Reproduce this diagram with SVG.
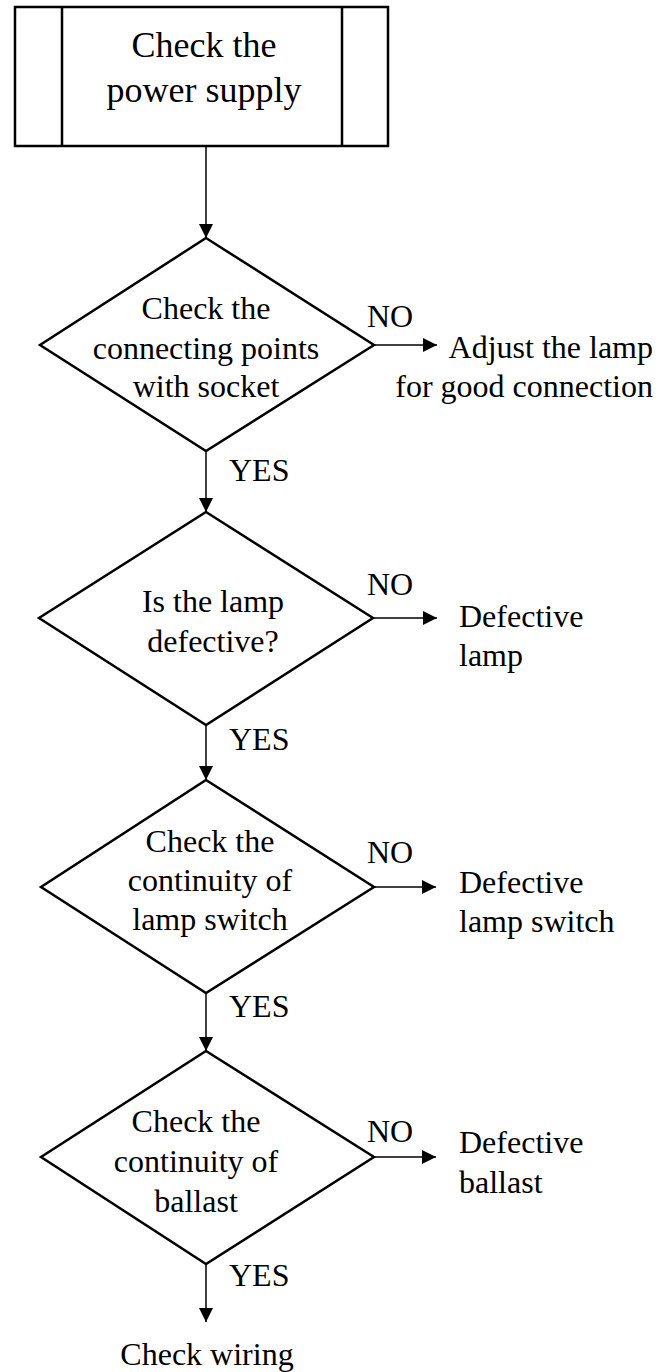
<svg xmlns="http://www.w3.org/2000/svg" width="670" height="1372" viewBox="0 0 670 1372">
<defs>
<marker id="arr" markerUnits="userSpaceOnUse" markerWidth="14" markerHeight="14" refX="14" refY="7" orient="auto">
<path d="M0,0 L14,7 L0,14 z" fill="#000"/>
</marker>
<style>
.shape{fill:#fff;stroke:#000;stroke-width:2.5;stroke-linejoin:miter}
.conn{stroke:#000;stroke-width:1.5;fill:none;marker-end:url(#arr)}
text{font-family:"Liberation Serif","Times New Roman",serif;fill:#000}
.t32{font-size:32px}
.t36{font-size:36px}
.c{text-anchor:middle}
</style>
</defs>
<rect width="670" height="1372" fill="#fff"/>
<g id="connectors">
<line class="conn" x1="206" y1="146" x2="206" y2="238"/>
<line class="conn" x1="206" y1="451" x2="206" y2="512"/>
<line class="conn" x1="206" y1="725" x2="206" y2="780"/>
<line class="conn" x1="206" y1="993" x2="206" y2="1051"/>
<line class="conn" x1="206" y1="1264" x2="206" y2="1322"/>
<line class="conn" x1="374" y1="345" x2="437" y2="345"/>
<line class="conn" x1="373" y1="618" x2="437" y2="618"/>
<line class="conn" x1="374" y1="887" x2="436" y2="887"/>
<line class="conn" x1="374" y1="1157" x2="436" y2="1157"/>
<text class="t32" x="367" y="327">NO</text>
<text class="t32" x="367" y="595">NO</text>
<text class="t32" x="367" y="863">NO</text>
<text class="t32" x="367" y="1142">NO</text>
<text class="t32" x="229" y="481">YES</text>
<text class="t32" x="229" y="750">YES</text>
<text class="t32" x="229" y="1017">YES</text>
<text class="t32" x="229" y="1286">YES</text>
</g>
<g id="start">
<rect class="shape" x="15" y="7" width="373" height="139"/>
<line x1="62" y1="7" x2="62" y2="146" stroke="#000" stroke-width="2.5"/>
<line x1="342" y1="7" x2="342" y2="146" stroke="#000" stroke-width="2.5"/>
<text class="t36 c" x="204" y="57">Check the</text>
<text class="t36 c" x="204" y="102">power supply</text>
</g>
<g id="d1">
<polygon class="shape" points="206,238 374,345 206,451 40,345"/>
<text class="t32 c" x="206" y="319">Check the</text>
<text class="t32 c" x="206" y="359">connecting points</text>
<text class="t32 c" x="206" y="397">with socket</text>
</g>
<g id="r1">
<text class="t32" x="653" y="358" text-anchor="end">Adjust the lamp</text>
<text class="t32" x="653" y="397" text-anchor="end">for good connection</text>
</g>
<g id="d2">
<polygon class="shape" points="206,512 373,618 206,725 39,618"/>
<text class="t32 c" x="213" y="612">Is the lamp</text>
<text class="t32 c" x="213" y="652">defective?</text>
</g>
<g id="r2">
<text class="t32" x="459" y="627">Defective</text>
<text class="t32" x="459" y="666">lamp</text>
</g>
<g id="d3">
<polygon class="shape" points="206,780 374,887 206,993 41,887"/>
<text class="t32 c" x="210" y="852">Check the</text>
<text class="t32 c" x="210" y="891">continuity of</text>
<text class="t32 c" x="210" y="930">lamp switch</text>
</g>
<g id="r3">
<text class="t32" x="459" y="893">Defective</text>
<text class="t32" x="459" y="932">lamp switch</text>
</g>
<g id="d4">
<polygon class="shape" points="206,1051 374,1157 206,1264 41,1157"/>
<text class="t32 c" x="196" y="1132">Check the</text>
<text class="t32 c" x="196" y="1172">continuity of</text>
<text class="t32 c" x="196" y="1212">ballast</text>
</g>
<g id="r4">
<text class="t32" x="459" y="1153">Defective</text>
<text class="t32" x="459" y="1193">ballast</text>
</g>
<g id="end">
<text class="t32 c" x="207" y="1365">Check wiring</text>
</g>
</svg>
